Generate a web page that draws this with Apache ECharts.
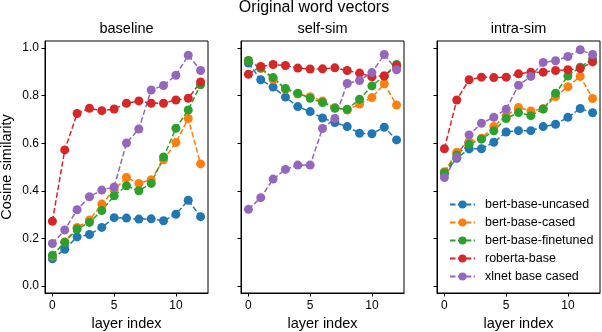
<!DOCTYPE html>
<html>
<head>
<meta charset="utf-8">
<script src="https://cdn.jsdelivr.net/npm/echarts@6/dist/echarts.min.js"></script>
<style>
  html, body { margin: 0; padding: 0; background: #fff; }
  #chart { width: 602px; height: 332px; }
</style>
</head>
<body>
<div id="chart"></div>
<script>
const FONT = 'Liberation Sans, Arial, sans-serif';

const layers = [0, 1, 2, 3, 4, 5, 6, 7, 8, 9, 10, 11, 12];
const models = ['bert-base-uncased', 'bert-base-cased', 'bert-base-finetuned', 'roberta-base', 'xlnet base cased'];
const colors = ['#1f77b4', '#ff7f0e', '#2ca02c', '#d62728', '#9467bd'];
const panels = ['baseline', 'self-sim', 'intra-sim'];
const xTicks = [0, 5, 10];
const yTicks = [0, 0.2, 0.4, 0.6, 0.8, 1.0];

// baseline
const baseUncased   = [0.114, 0.154, 0.206, 0.216, 0.246, 0.287, 0.285, 0.281, 0.282, 0.274, 0.301, 0.360, 0.291];
const baseCased     = [0.125, 0.185, 0.246, 0.277, 0.344, 0.404, 0.456, 0.431, 0.446, 0.530, 0.603, 0.704, 0.513];
const baseFinetuned = [0.129, 0.183, 0.239, 0.267, 0.317, 0.379, 0.421, 0.400, 0.431, 0.542, 0.663, 0.740, 0.846];
const baseRoberta   = [0.272, 0.572, 0.725, 0.747, 0.737, 0.744, 0.768, 0.778, 0.768, 0.768, 0.782, 0.789, 0.858];
const baseXlnet     = [0.178, 0.235, 0.320, 0.375, 0.403, 0.416, 0.601, 0.660, 0.824, 0.843, 0.886, 0.970, 0.906];

// self-sim
const selfUncased   = [0.937, 0.867, 0.836, 0.794, 0.754, 0.733, 0.706, 0.687, 0.670, 0.642, 0.640, 0.667, 0.614];
const selfCased     = [0.948, 0.915, 0.869, 0.827, 0.807, 0.796, 0.778, 0.750, 0.740, 0.765, 0.792, 0.850, 0.761];
const selfFinetuned = [0.948, 0.916, 0.876, 0.830, 0.810, 0.789, 0.771, 0.747, 0.743, 0.785, 0.841, 0.883, 0.931];
const selfRoberta   = [0.890, 0.923, 0.931, 0.927, 0.916, 0.912, 0.913, 0.917, 0.906, 0.895, 0.879, 0.883, 0.926];
const selfXlnet     = [0.322, 0.371, 0.449, 0.490, 0.508, 0.508, 0.662, 0.704, 0.851, 0.864, 0.897, 0.973, 0.909];

// intra-sim
const intraUncased   = [0.473, 0.537, 0.576, 0.577, 0.604, 0.647, 0.653, 0.653, 0.670, 0.680, 0.709, 0.746, 0.728];
const intraCased     = [0.480, 0.562, 0.607, 0.621, 0.670, 0.716, 0.750, 0.736, 0.745, 0.796, 0.838, 0.881, 0.788];
const intraFinetuned = [0.476, 0.551, 0.596, 0.617, 0.652, 0.704, 0.729, 0.716, 0.744, 0.810, 0.883, 0.920, 0.955];
const intraRoberta   = [0.577, 0.782, 0.867, 0.878, 0.876, 0.878, 0.892, 0.899, 0.899, 0.906, 0.909, 0.914, 0.942];
const intraXlnet     = [0.456, 0.541, 0.635, 0.684, 0.709, 0.743, 0.844, 0.881, 0.940, 0.947, 0.965, 0.993, 0.973];

const panelData = [
  [baseUncased, baseCased, baseFinetuned, baseRoberta, baseXlnet],
  [selfUncased, selfCased, selfFinetuned, selfRoberta, selfXlnet],
  [intraUncased, intraCased, intraFinetuned, intraRoberta, intraXlnet]
];

const gridLefts = [45, 241, 437];
const gridWidth = 163;

var chart = echarts.init(document.getElementById('chart'), null, { renderer: 'canvas' });

var grids = [], xAxes = [], yAxes = [], series = [], graphics = [];

panels.forEach(function (name, p) {
  grids.push({
    left: gridLefts[p], top: 41, width: gridWidth, height: 252,
    containLabel: false, outerBoundsMode: 'none',
    show: true, borderColor: '#000', borderWidth: 1, backgroundColor: 'transparent'
  });
  xAxes.push({
    gridIndex: p, type: 'value', min: -0.6, max: 12.6,
    axisLine: { show: true, onZero: false, lineStyle: { color: '#000', width: 1 } },
    axisTick: { show: true, customValues: xTicks, length: 3.5, lineStyle: { color: '#000' } },
    axisLabel: { customValues: xTicks, color: '#000', fontSize: 12, fontFamily: FONT, margin: 7 },
    splitLine: { show: false },
    name: 'layer index', nameLocation: 'middle', nameGap: 23,
    nameTextStyle: { color: '#000', fontSize: 14.5, fontFamily: FONT }
  });
  yAxes.push({
    gridIndex: p, type: 'value', min: -0.03, max: 1.03,
    axisLine: { show: true, onZero: false, lineStyle: { color: '#000', width: 1 } },
    axisTick: { show: true, customValues: yTicks, length: 3.5, lineStyle: { color: '#000' } },
    axisLabel: {
      show: p === 0, customValues: yTicks, color: '#000', fontSize: 12, fontFamily: FONT, margin: 6,
      formatter: function (v) { return v.toFixed(1); }
    },
    splitLine: { show: false },
    name: p === 0 ? 'Cosine similarity' : '', nameLocation: 'middle', nameGap: 31,
    nameTextStyle: { color: '#000', fontSize: 14.5, fontFamily: FONT }
  });
  graphics.push({
    type: 'text', x: gridLefts[p] + gridWidth / 2, y: 29,
    style: { text: name, fill: '#000', font: '14.5px ' + FONT, textAlign: 'center', textVerticalAlign: 'middle' }
  });
  models.forEach(function (m, k) {
    series.push({
      name: m, type: 'line', xAxisIndex: p, yAxisIndex: p,
      data: layers.map(function (l, i) { return [l, panelData[p][k][i]]; }),
      symbol: 'circle', symbolSize: 9, showAllSymbol: true,
      lineStyle: { color: colors[k], width: 1.5, type: [5.5, 2.4] },
      itemStyle: { color: colors[k] },
      emphasis: { disabled: true },
      animation: false
    });
  });
});

graphics.push({
  type: 'text', x: 314, y: 8,
  style: { text: 'Original word vectors', fill: '#000', font: '16px ' + FONT, textAlign: 'center', textVerticalAlign: 'middle' }
});

chart.setOption({
  animation: false,
  color: colors,
  grid: grids,
  xAxis: xAxes,
  yAxis: yAxes,
  legend: {
    data: models, orient: 'vertical', left: 444, top: 193,
    itemWidth: 25, itemHeight: 10, itemGap: 5,
    textStyle: { color: '#000', fontSize: 12.5, fontFamily: FONT, padding: [0, 0, 0, 5] }
  },
  graphic: graphics,
  series: series
});
</script>
</body>
</html>
